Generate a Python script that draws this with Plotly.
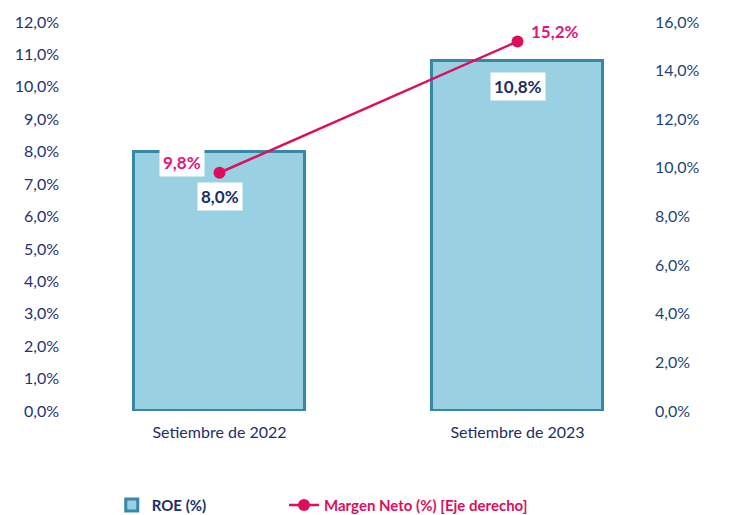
import plotly.graph_objects as go

categories = ["Setiembre de 2022", "Setiembre de 2023"]
roe = [8.0, 10.8]
margen = [9.8, 15.2]
left_ticks = [0, 1, 2, 3, 4, 5, 6, 7, 8, 9, 10, 11, 12]
right_ticks = [0, 2, 4, 6, 8, 10, 12, 14, 16]

NAVY = "#1B2F66"
TICK = "#1D3370"
TICK2 = "#1A4578"
PINK = "#DD0E5C"
PINK_LABEL = "#E2177A"
FONT = "Lato"

xpos = list(range(len(categories)))


def fmt(v):
    return f"{v:.1f}".replace(".", ",") + "%"


fig = go.Figure()
fig.add_trace(go.Bar(
    x=xpos, y=roe, width=0.574,
    name=f"<b><span style='color:{NAVY}'>ROE (%)</span></b>",
    marker=dict(color="#99D0E2", line=dict(color="#3688A6", width=3)),
    hoverinfo="skip", legend="legend",
))
fig.add_trace(go.Scatter(
    x=xpos, y=margen, yaxis="y2", mode="lines+markers",
    name=f"<b><span style='color:{PINK}'>Margen Neto (%) [Eje derecho]</span></b>",
    line=dict(color=PINK, width=2.5),
    marker=dict(color=PINK, size=12),
    hoverinfo="skip", legend="legend2",
))

# bar value labels
for x, v, ys in zip(xpos, roe, [-45, -26]):
    fig.add_annotation(x=x, y=v, yref="y", text=f"<b>{fmt(v)}</b>", showarrow=False,
                       yshift=ys, bgcolor="white", borderpad=3,
                       font=dict(family=FONT, size=17, color=NAVY))
# line value labels
for x, v, xs, bg in zip(xpos, margen, [-38, 37], ["white", "rgba(0,0,0,0)"]):
    fig.add_annotation(x=x, y=v, yref="y2", text=f"<b>{fmt(v)}</b>", showarrow=False,
                       xshift=xs, yshift=10, bgcolor=bg, borderpad=3,
                       font=dict(family=FONT, size=17, color=PINK_LABEL))

legend_common = dict(orientation="h", y=-0.242, xanchor="left", yanchor="middle",
                     font=dict(family=FONT, size=15), bgcolor="rgba(0,0,0,0)")

fig.update_layout(
    width=721, height=507,
    margin=dict(l=62, r=79, t=14, b=104, autoexpand=False),
    paper_bgcolor="white", plot_bgcolor="white",
    font=dict(family=FONT, size=16, color=TICK),
    showlegend=True,
    legend=dict(x=0.072, **legend_common),
    legend2=dict(x=0.369, **legend_common),
    bargap=0,
    xaxis=dict(range=[-0.5017, 1.4446], tickvals=xpos, ticktext=categories,
               showgrid=False, zeroline=False, showline=False, ticks="", automargin=False,
               ticklabelstandoff=10, tickfont=dict(family=FONT, size=16, color=NAVY)),
    yaxis=dict(range=[0, 12], tickvals=left_ticks, ticktext=[fmt(t) for t in left_ticks],
               showgrid=False, zeroline=False, showline=False, ticks="", automargin=False,
               ticklabelstandoff=10, tickfont=dict(family=FONT, size=16, color=TICK)),
    yaxis2=dict(range=[0, 16], tickvals=right_ticks, ticktext=[fmt(t) for t in right_ticks],
                overlaying="y", side="right", automargin=False,
                showgrid=False, zeroline=False, showline=False, ticks="",
                ticklabelstandoff=4, tickfont=dict(family=FONT, size=16, color=TICK2)),
)

fig.write_html("out.html")
